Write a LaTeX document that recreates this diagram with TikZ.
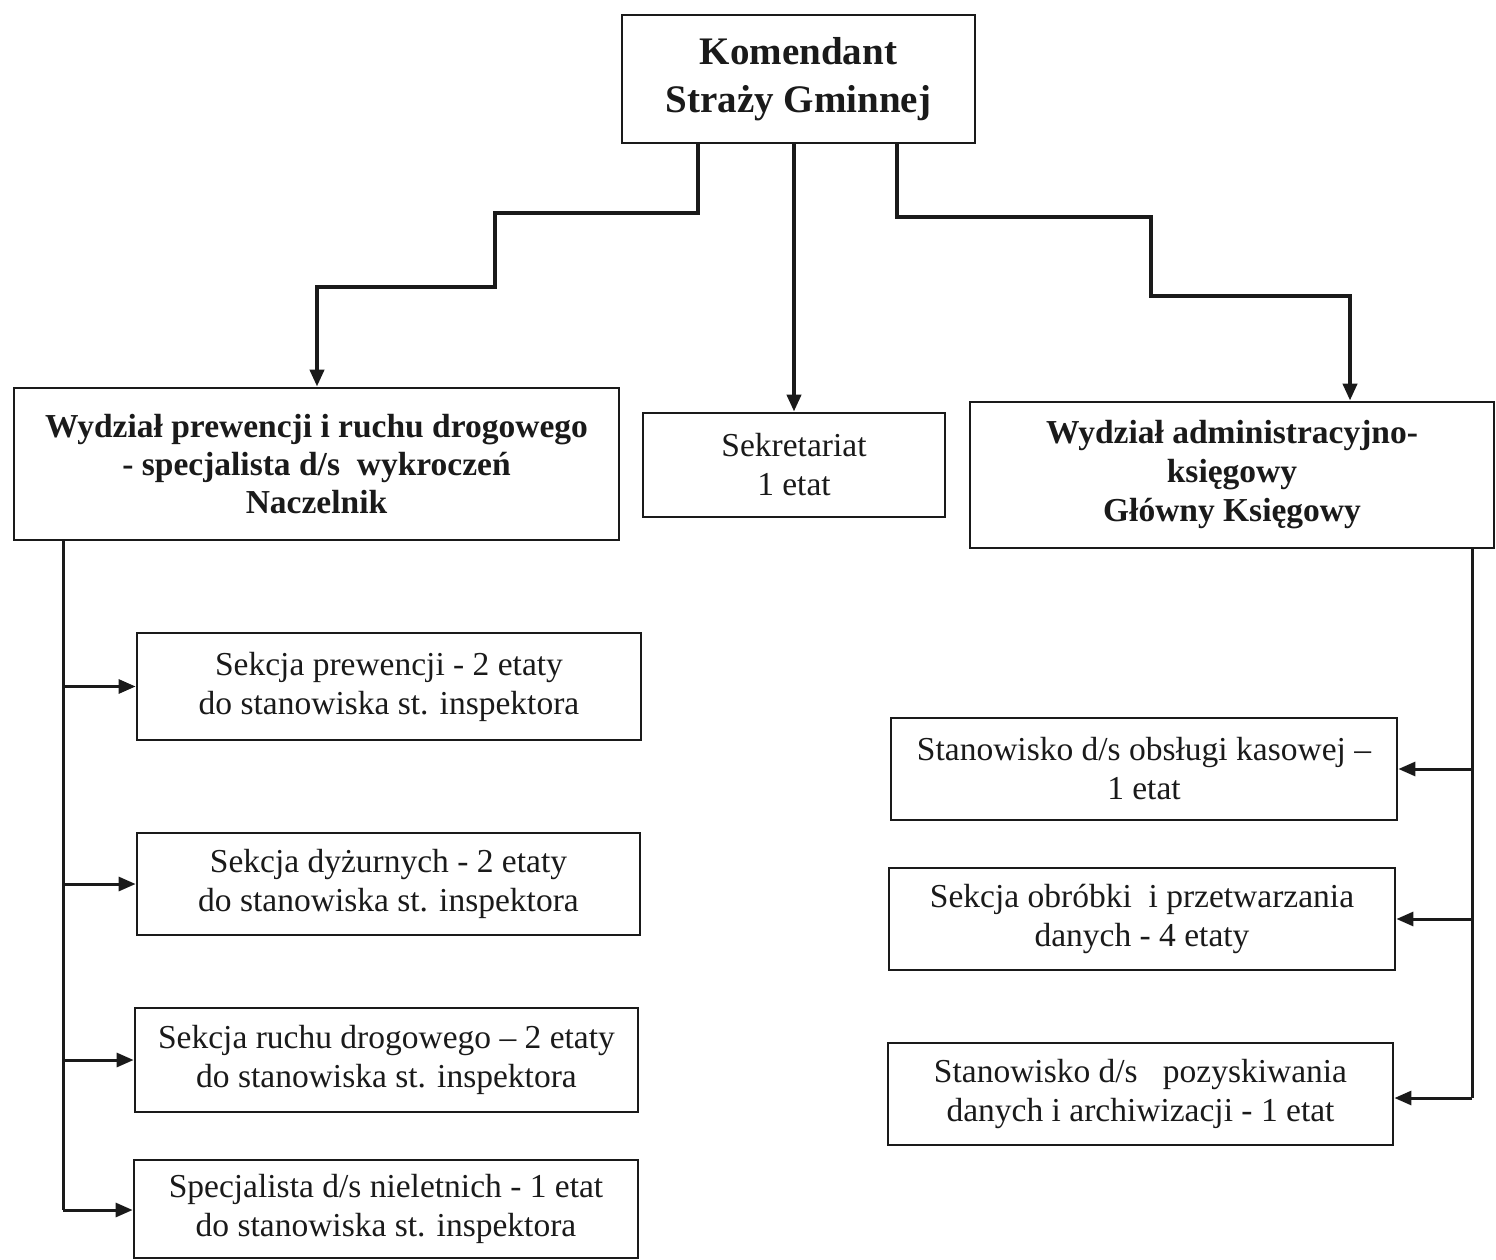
\documentclass[tikz,border=0pt]{standalone}
\usepackage{fontspec}
\setmainfont{Liberation Serif}
\usetikzlibrary{arrows.meta}
\definecolor{ink}{HTML}{1A1A1A}
\tikzset{
  box/.style={draw=ink, line width=2.8pt, inner sep=0pt, align=center, text=ink,
    font=\fontsize{33.5}{39}\selectfont},
  boldbox/.style={box, font=\fontsize{33.5}{38}\selectfont\bfseries},
  topbox/.style={box, font=\fontsize{39}{48}\selectfont\bfseries},
  mainline/.style={draw=ink, line width=4pt, line join=miter,
    -{Triangle[length=17pt,width=14pt]}},
  trunk/.style={draw=ink, line width=3pt},
  branch/.style={draw=ink, line width=3pt, -{Triangle[length=17pt,width=14pt]}}
}
\begin{document}
\begin{tikzpicture}[x=1pt,y=1pt]
\useasboundingbox[fill=white] (0,0) rectangle (1496,-1260);

% main boxes
\node[topbox, minimum width=353pt, minimum height=128pt] (K) at (798.5,-79) {Komendant\\Straży Gminnej};
\node[boldbox, minimum width=605pt, minimum height=152pt] (L) at (316.5,-464) {Wydział prewencji i ruchu drogowego\\- specjalista d/s\enspace wykroczeń\\Naczelnik};
\node[box, minimum width=302pt, minimum height=104pt] (S) at (794,-465) {Sekretariat\\1 etat};
\node[boldbox, minimum width=524pt, minimum height=146pt, font=\fontsize{33.5}{39}\selectfont\bfseries] (R) at (1232,-475) {Wydział administracyjno-\\księgowy\\Główny Księgowy};

% left sub-boxes
\node[box, minimum width=504pt, minimum height=107pt] (s1) at (389,-686.5) {Sekcja prewencji - 2 etaty\\do stanowiska st. inspektora};
\node[box, minimum width=503pt, minimum height=102pt] (s2) at (388.5,-884) {Sekcja dyżurnych - 2 etaty\\do stanowiska st. inspektora};
\node[box, minimum width=503pt, minimum height=104pt] (s3) at (386.5,-1060) {Sekcja ruchu drogowego – 2 etaty\\do stanowiska st. inspektora};
\node[box, minimum width=504pt, minimum height=98pt] (s4) at (386,-1209) {Specjalista d/s nieletnich - 1 etat\\do stanowiska st. inspektora};

% right sub-boxes
\node[box, minimum width=506pt, minimum height=102pt] (r1) at (1144,-769) {Stanowisko d/s obsługi kasowej –\\1 etat};
\node[box, minimum width=506pt, minimum height=102pt] (r2) at (1142,-919) {Sekcja obróbki\enspace i przetwarzania\\danych - 4 etaty};
\node[box, minimum width=505pt, minimum height=102pt] (r3) at (1140.5,-1094) {Stanowisko d/s\enspace\ pozyskiwania\\danych i archiwizacji - 1 etat};

% top connectors
\coordinate (a1) at (698,-213);
\coordinate (a2) at (495,-287);
\coordinate (a3) at (317,0);
\coordinate (b1) at (897,-217);
\coordinate (b2) at (1151,-296);
\coordinate (b3) at (1350,0);
\draw[mainline] (K.south -| a1) -- (a1) -| (a2) -| (L.north -| a3);
\draw[mainline] (K.south -| S.north) -- (S.north);
\draw[mainline] (K.south -| b1) -- (b1) -| (b2) -| (R.north -| b3);

% left trunk
\coordinate (lt) at (63,-1210);
\draw[trunk] (L.south -| lt) -- (lt);
\draw[branch] (s1.west -| lt) -- (s1.west);
\draw[branch] (s2.west -| lt) -- (s2.west);
\draw[branch] (s3.west -| lt) -- (s3.west);
\draw[branch] (lt) -- (s4.west |- lt);

% right trunk
\coordinate (rt) at (1472,-1098);
\draw[trunk] (R.south -| rt) -- (rt);
\draw[branch] (r1.east -| rt) -- (r1.east);
\draw[branch] (r2.east -| rt) -- (r2.east);
\draw[branch] (rt) -- (r3.east |- rt);
\end{tikzpicture}
\end{document}
